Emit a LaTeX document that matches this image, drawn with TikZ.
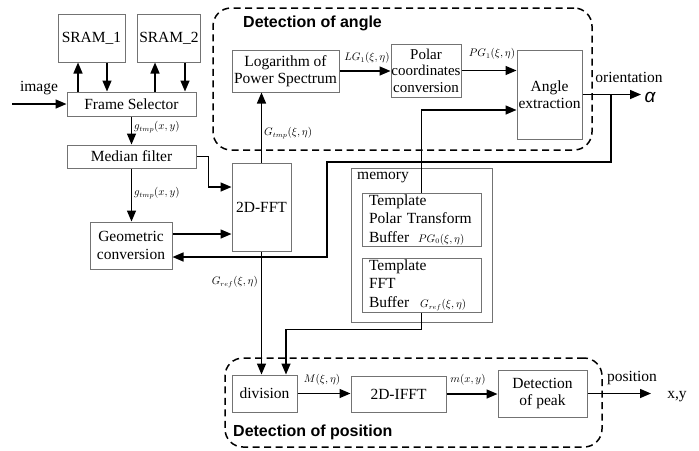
\documentclass[tikz,border=0pt]{standalone}
\usepackage{fontspec}
\setmainfont{Liberation Serif}
\newfontfamily\serifont{Liberation Serif}
\newfontfamily\titlefont{Liberation Sans}
\usetikzlibrary{arrows.meta}
\newcommand\lblf{\fontsize{10.5}{12}\selectfont}
\newcommand\bodyf{\serifont\fontsize{15.5}{17.5}\selectfont}
\begin{document}
\begin{tikzpicture}[x=1pt,y=-1pt,
  box/.style={draw=black!55, line width=1pt, inner sep=2pt, align=center, font=\bodyf},
  arr/.style={line width=1.5pt, -{Triangle[length=11pt,width=9pt]}},
  grp/.style={draw, dash pattern=on 7pt off 4.5pt, line width=1.5pt, rounded corners=18pt},
  lbl/.style={font=\lblf, inner sep=0pt},
  txt/.style={font=\bodyf, inner sep=0pt},
  ttl/.style={font=\titlefont\bfseries\fontsize{16}{18}\selectfont, inner sep=0pt, anchor=west},
  buf/.style={box, align=left, text width=105pt, inner xsep=7pt, inner ysep=0pt, minimum width=119pt, font=\serifont\fontsize{15.5}{18.5}\selectfont}]
\useasboundingbox (0,0) rectangle (699,450);

% group boxes
\node[grp, minimum width=379pt, minimum height=142pt] (angbox) at (402.5,79) {};
\node[grp, minimum width=377pt, minimum height=89pt] (posbox) at (413.5,402.5) {};
\node[ttl] (angttl) at (243,23) {Detection of angle};
\node[ttl] (posttl) at (233,432) {Detection of position};

% blocks
\node[box, minimum width=67pt, minimum height=48pt] (s1) at (91.5,38) {SRAM\_1};
\node[box, minimum width=62pt, minimum height=48pt] (s2) at (169,38) {SRAM\_2};
\node[box, minimum width=129pt, minimum height=24pt] (fs) at (131.5,104) {Frame Selector};
\node[box, minimum width=129pt, minimum height=23pt] (med) at (131.5,156.5) {Median filter};
\node[box, minimum width=82pt, minimum height=47pt] (geo) at (131,245.5) {Geometric\\conversion};
\node[box, minimum width=59pt, minimum height=88pt] (fft) at (261.5,207) {2D-FFT};
\node[box, minimum width=107pt, minimum height=42pt] (log) at (285.5,71) {Logarithm of\\Power Spectrum};
\node[box, inner xsep=0pt, minimum width=70pt, minimum height=53pt, font=\serifont\fontsize{15}{16.5}\selectfont] (pol) at (426,70.5) {Polar\\coordinates\\conversion};
\node[box, inner xsep=1pt, minimum width=65pt, minimum height=89pt] (ang) at (549.5,94.5) {Angle\\extraction};
\node[box, minimum width=141pt, minimum height=154pt] (mem) at (421.5,245) {};
\node[txt, anchor=west] (memlbl) at (357,178) {memory};
\node[buf, minimum height=53pt] (tpb) at (421.5,219.5) {Template\\Polar Transform\\Buffer\hspace{9pt}{\lblf$PG_0(\xi,\eta)$}};
\node[buf, minimum height=54pt] (tfb) at (421.5,285) {Template\\FFT\\Buffer\hspace{11pt}{\lblf$G_{ref}(\xi,\eta)$}};
\node[box, minimum width=65pt, minimum height=37pt] (div) at (264.5,393.5) {division};
\node[box, minimum width=95pt, minimum height=36pt] (ifft) at (398.5,394) {2D-IFFT};
\node[box, minimum width=89pt, minimum height=47pt] (peak) at (542.5,393.5) {Detection\\of peak};

% helper coordinates
\coordinate (imgin) at (12,104);
\coordinate (xa) at (78,0);
\coordinate (xb) at (107,0);
\coordinate (xc) at (155,0);
\coordinate (xd) at (185,0);
\coordinate (y187) at (0,187);
\coordinate (y234) at (0,234);
\coordinate (y257) at (0,257);
\coordinate (y110) at (0,110);
\coordinate (xbr) at (611,0);
\coordinate (fb1) at (327,162);
\coordinate (x286) at (286,0);
\coordinate (alphaend) at (641,0);
\coordinate (posend) at (651,0);

% input
\draw[arr] (imgin) -- (fs.west);
\node[txt] (imglbl) at (39,88) {image};

% SRAM
\draw[arr] (xa |- fs.north) -- (xa |- s1.south);
\draw[arr] (xb |- s1.south) -- (xb |- fs.north);
\draw[arr] (xc |- fs.north) -- (xc |- s2.south);
\draw[arr] (xd |- s2.south) -- (xd |- fs.north);

% left chain
\draw[arr] (fs.south) -- (med.north);
\node[lbl, anchor=west] (l1) at (134,127) {$g_{tmp}(x,y)$};
\draw[arr] (med.south) -- (med.south |- geo.north);
\node[lbl, anchor=west] (l2) at (134,193) {$g_{tmp}(x,y)$};
\draw[arr] (med.east) -- ++(12,0) |- (y187 -| fft.west);
\draw[arr] (y234 -| geo.east) -- (y234 -| fft.west);

% angle detection
\draw[arr] (fft.north) -- (fft.north |- log.south);
\node[lbl, anchor=west] (l3) at (264,133) {$G_{tmp}(\xi,\eta)$};
\draw[arr] (log.east) -- (log.east -| pol.west);
\node[lbl] (l4) at (367,58) {$LG_1(\xi,\eta)$};
\draw[arr] (pol.east) -- (pol.east -| ang.west);
\node[lbl] (l5) at (492,54) {$PG_1(\xi,\eta)$};
\draw[arr] (tpb.north) |- (y110 -| ang.west);

% orientation output and feedback
\draw[arr] (ang.east) -- (ang.east -| alphaend);
\node[txt] (orlbl) at (629,77) {orientation};
\node[font=\titlefont\itshape\fontsize{19}{19}\selectfont, inner sep=0pt] (alpha) at (650,97) {α};
\draw[arr] (xbr |- ang.east) |- (fb1) |- (y257 -| geo.east);

% position detection
\draw[arr] (fft.south) -- (fft.south |- div.north);
\node[lbl, anchor=east] (l6) at (258,282) {$G_{ref}(\xi,\eta)$};
\draw[arr] (tfb.south) -- ++(0,17) -| (x286 |- div.north);
\draw[arr] (div.east) -- (div.east -| ifft.west);
\node[lbl] (l7) at (322,380) {$M(\xi,\eta)$};
\draw[arr] (ifft.east) -- (ifft.east -| peak.west);
\node[lbl] (l8) at (468,380) {$m(x,y)$};
\draw[arr] (peak.east) -- (peak.east -| posend);
\node[txt] (poslbl) at (632,378) {position};
\node[txt] (xylbl) at (677,397) {x,y};
\end{tikzpicture}
\end{document}
